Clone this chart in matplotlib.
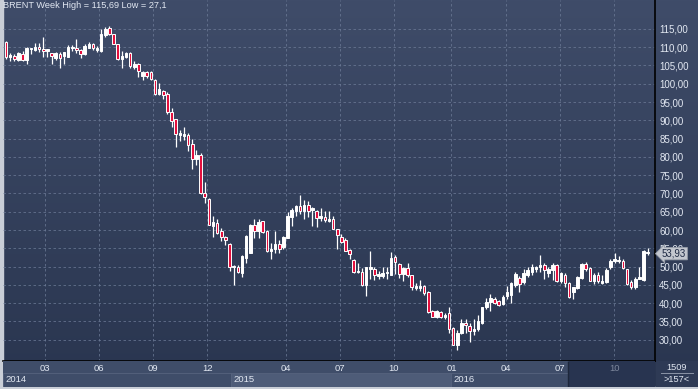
import numpy as np
import matplotlib.pyplot as plt
from matplotlib.patches import Rectangle
from matplotlib.colors import LinearSegmentedColormap

# weekly candles, BRENT, 157 weeks (2014 - Dec 2016)
opens = [111.5, 107.2, 107.5, 106.4, 108.1, 106.6, 109.5, 109.2, 110.1, 109.5,
         109.0, 108.3, 107.0, 108.1, 107.7, 107.3, 109.7, 109.9, 109.2, 108.1,
         109.9, 110.8, 109.3, 109.0, 113.4, 115.2, 113.5, 110.8, 106.8, 107.2,
         108.4, 104.6, 105.3, 102.2, 103.3, 103.1, 101.1, 97.1, 98.0, 97.3,
         92.3, 90.3, 86.1, 85.7, 85.9, 83.4, 79.5, 80.6, 70.1, 68.6,
         61.1, 61.8, 59.7, 58.0, 56.2, 49.8, 49.8, 48.2, 52.4, 53.8,
         61.5, 59.8, 62.4, 59.8, 54.4, 54.9, 56.2, 55.3, 57.8, 63.7,
         65.3, 66.6, 65.3, 66.8, 65.5, 65.3, 63.4, 63.7, 62.6, 62.9,
         60.2, 58.2, 57.3, 54.6, 51.8, 48.4, 48.5, 45.1, 49.3, 49.4,
         47.4, 47.4, 48.2, 47.8, 52.7, 50.7, 48.0, 49.5, 47.6, 44.2,
         44.2, 44.7, 43.1, 37.8, 36.1, 37.6, 36.1, 37.2, 33.2, 28.5,
         31.8, 34.7, 33.8, 32.5, 32.9, 34.7, 38.9, 40.3, 41.2, 40.5,
         39.8, 42.0, 42.3, 45.1, 46.9, 45.8, 47.6, 48.5, 49.3, 49.8,
         50.5, 48.2, 49.1, 50.5, 46.0, 47.8, 45.6, 43.1, 44.2, 46.9,
         50.7, 49.6, 46.0, 47.8, 45.6, 45.8, 49.8, 51.5, 51.5, 51.6,
         49.3, 45.8, 44.5, 46.7, 46.3, 53.6]
highs = [111.7, 108.5, 108.1, 108.6, 108.9, 110.0, 109.7, 111.1, 111.2, 112.8,
         109.4, 108.3, 108.6, 108.6, 108.8, 110.6, 110.6, 112.3, 109.5, 110.8,
         111.5, 111.2, 110.3, 115.0, 115.4, 115.69, 113.5, 111.0, 109.0, 108.8,
         108.6, 106.1, 105.7, 103.5, 103.5, 103.5, 101.3, 100.1, 98.4, 97.7,
         93.4, 90.5, 87.4, 88.1, 86.5, 85.0, 81.9, 81.0, 73.1, 68.8,
         63.9, 62.9, 60.5, 58.4, 56.4, 50.4, 50.4, 53.1, 58.6, 61.7,
         62.9, 62.9, 62.4, 60.0, 56.5, 59.8, 57.3, 58.4, 64.9, 65.9,
         66.9, 69.5, 68.2, 67.9, 66.4, 65.5, 66.0, 65.3, 65.3, 63.9,
         60.4, 58.9, 57.7, 54.9, 52.2, 51.1, 49.5, 50.0, 54.4, 49.8,
         48.9, 50.0, 50.0, 54.0, 53.1, 50.9, 49.8, 51.1, 47.8, 45.6,
         46.4, 44.9, 43.3, 38.1, 38.1, 37.8, 37.4, 38.9, 33.4, 32.7,
         35.6, 35.8, 34.5, 35.6, 36.9, 39.1, 41.3, 42.5, 41.6, 41.0,
         42.2, 44.7, 45.8, 48.5, 47.4, 49.3, 49.8, 50.7, 50.2, 53.1,
         50.9, 50.0, 50.9, 50.7, 48.4, 48.2, 45.8, 44.3, 47.4, 51.1,
         51.3, 49.8, 48.2, 48.5, 47.8, 49.6, 52.2, 53.6, 52.9, 52.2,
         49.4, 46.3, 47.1, 50.0, 54.6, 55.0]
lows = [106.9, 106.3, 106.1, 106.2, 106.2, 105.5, 108.1, 109.0, 108.6, 107.3,
        107.2, 105.5, 106.4, 104.2, 105.3, 107.2, 109.0, 108.3, 107.0, 107.9,
        109.7, 109.3, 108.6, 108.8, 112.9, 113.2, 110.8, 106.4, 104.4, 107.0,
        104.4, 104.1, 101.9, 101.1, 101.7, 101.1, 96.9, 96.9, 95.7, 91.7,
        88.3, 82.6, 84.3, 84.5, 81.7, 76.8, 77.7, 69.9, 67.5, 61.3,
        58.2, 58.9, 56.9, 55.8, 48.7, 45.1, 48.2, 47.3, 51.1, 53.7,
        57.7, 57.7, 59.1, 54.0, 52.2, 53.6, 53.6, 54.9, 57.7, 61.1,
        63.9, 64.4, 62.9, 63.7, 61.1, 60.9, 62.4, 62.2, 62.2, 60.2,
        54.9, 56.4, 54.2, 52.0, 48.2, 48.2, 44.7, 42.0, 46.7, 46.4,
        46.5, 46.9, 46.7, 47.6, 48.0, 46.9, 46.2, 47.1, 43.6, 43.6,
        43.4, 42.2, 37.2, 36.1, 36.0, 36.0, 35.8, 31.9, 28.5, 27.1,
        31.6, 31.9, 29.4, 31.4, 32.5, 34.3, 38.5, 38.0, 39.8, 39.3,
        39.4, 41.2, 40.1, 44.3, 43.2, 45.3, 47.1, 47.8, 48.4, 48.4,
        46.7, 47.1, 46.3, 45.8, 45.4, 44.5, 41.4, 41.1, 43.8, 46.7,
        48.7, 46.0, 45.3, 45.6, 45.3, 45.4, 49.4, 50.9, 50.9, 49.3,
        44.9, 44.0, 43.8, 46.7, 46.2, 53.3]
closes = [107.2, 107.9, 106.8, 108.3, 106.6, 109.7, 109.7, 110.1, 109.4, 108.9,
          109.4, 107.5, 108.3, 107.0, 108.8, 110.1, 110.1, 109.2, 108.1, 110.3,
          110.8, 109.7, 109.9, 113.7, 115.0, 113.5, 111.0, 106.8, 107.5, 108.4,
          104.8, 105.5, 103.5, 103.3, 102.1, 101.3, 97.1, 98.6, 96.8, 92.2,
          89.9, 86.3, 86.6, 86.3, 83.2, 79.5, 80.4, 70.1, 69.0, 61.5,
          62.2, 59.3, 58.0, 57.3, 49.8, 50.1, 48.4, 52.9, 58.4, 61.5,
          59.8, 62.2, 59.5, 54.4, 54.9, 56.2, 54.9, 58.2, 63.9, 65.5,
          66.6, 65.3, 66.8, 65.3, 65.9, 63.3, 63.9, 62.8, 63.0, 60.4,
          58.6, 56.7, 54.4, 53.5, 48.4, 48.9, 44.9, 49.8, 49.8, 47.8,
          48.0, 48.2, 48.5, 52.4, 51.3, 48.0, 49.5, 47.6, 44.3, 44.7,
          44.7, 42.9, 37.6, 36.3, 37.8, 36.1, 36.9, 33.0, 28.7, 31.9,
          34.7, 34.0, 32.3, 32.9, 35.2, 38.9, 40.3, 41.4, 40.1, 39.6,
          41.8, 43.1, 45.4, 48.0, 45.3, 48.2, 49.1, 49.8, 50.0, 50.5,
          49.1, 49.3, 50.5, 46.0, 48.2, 45.6, 41.8, 44.3, 47.1, 50.7,
          49.4, 46.2, 47.8, 46.0, 46.2, 49.1, 51.6, 52.0, 51.8, 49.6,
          45.2, 44.3, 46.7, 47.1, 54.4, 53.93]

month_labels = ['03', '06', '09', '12', '04', '07', '10', '01', '04', '07', '10']
month_pos = [9.4, 22.5, 35.4, 48.6, 67.6, 80.7, 93.7, 107.6, 120.7, 133.8, 146.9]
years = ['2014', '2015', '2016']
year_start = [-0.7, 54.3, 107.5]
price_ticks = np.arange(30, 116, 5)

W, H = 698, 389
bg_top, bg_bot = '#3f4c69', '#29354f'
txt = '#e2e8f2'
red = '#e3103e'
font = 'Liberation Sans'

fig = plt.figure(figsize=(W / 100, H / 100), dpi=100)
fig.patch.set_facecolor('#c9ced7')

# gradient background
bg = fig.add_axes([0, 0, 1, 1])
bg.set_axis_off()
grad = np.linspace(1, 0, 256).reshape(-1, 1)
cmap = LinearSegmentedColormap.from_list('bg', [bg_bot, bg_top])
bg.imshow(grad, aspect='auto', cmap=cmap, extent=[0, 1, 0, 1])
bg.set_xlim(0, 1)
bg.set_ylim(0, 1)
# light frame left / bottom
bg.add_patch(Rectangle((0, 0), 3 / W, 1, color='#c9ced7'))
bg.add_patch(Rectangle((0, 0), 1, 2 / H, color='#c9ced7'))

# main price axes
ax = fig.add_axes([3 / W, 28 / H, 652 / W, 361 / H])
ax.set_facecolor('none')
idx = np.arange(len(opens))
o = np.array(opens); c = np.array(closes)
hi = np.array(highs); lo = np.array(lows)
up = c >= o
ax.vlines(idx, lo, hi, color='white', lw=0.9, zorder=3)
body_h = np.maximum(np.abs(c - o), 0.15)
ax.bar(idx, body_h, bottom=np.minimum(o, c), width=0.62,
       color=np.where(up, 'white', red), edgecolor='white', linewidth=0.7, zorder=4)

ax.set_xlim(-0.72, 156.75)
ax.set_ylim(24.2, 122.9)
ax.set_yticks(price_ticks)
ax.set_yticklabels(['%d,00' % v for v in price_ticks], fontsize=7, color=txt, family=font)
ax.yaxis.tick_right()
ax.tick_params(axis='y', length=0, pad=3)
ax.set_xticks(month_pos)
ax.tick_params(axis='x', length=0, labelbottom=False)
ax.grid(True, color='#6d7b97', linestyle=(0, (3, 3)), linewidth=0.6, alpha=0.85)
ax.set_axisbelow(True)
for s in ['top', 'left']:
    ax.spines[s].set_visible(False)
ax.spines['right'].set_color('black')
ax.spines['bottom'].set_color('black')
ax.spines['right'].set_linewidth(1.2)
ax.spines['bottom'].set_linewidth(1.2)

ax.text(0.0, 0.996, 'BRENT Week High = 115,69 Low = 27,1', transform=ax.transAxes,
        ha='left', va='top', fontsize=6.6, color=txt, family=font)

# last price tag (drawn over the 55,00 label like the original)
last = closes[-1]
ax.annotate('53,93', xy=(1.0, last), xycoords=('axes fraction', 'data'),
            xytext=(5, -1), textcoords='offset points', ha='left', va='center',
            fontsize=7, color='#1f2a44', family=font, annotation_clip=False, zorder=10,
            bbox=dict(boxstyle='larrow,pad=0.12', fc='#c3c7cf', ec='#9aa0ab', lw=0.6))

# time axis panel
tx = fig.add_axes([3 / W, 2 / H, 652 / W, 26 / H], sharex=ax)
tx.set_ylim(0, 1)
tx.set_axis_off()
tx.add_patch(Rectangle((-1, 0), 200, 1, color='#3f4d69', zorder=0))
year_end = year_start[1:] + [136.0]
for k, (y0, y1) in enumerate(zip(year_start, year_end)):
    tx.add_patch(Rectangle((y0, 0), y1 - y0, 0.54, fc='#4e5c78' if k == 1 else '#3f4d69',
                           ec='#56637e', lw=0.6, zorder=1))
    tx.text(y0 + 0.6, 0.27, years[k], ha='left', va='center', fontsize=6.8,
            color=txt, family=font, zorder=3)
tx.add_patch(Rectangle((136.0, 0), 30, 1, color='#283450', zorder=2))
tx.vlines(135.8, 0, 1, color='#1d273b', lw=1.0, zorder=2)
for p, lab in zip(month_pos, month_labels):
    tx.text(p, 0.73, lab, ha='center', va='center', fontsize=6.8,
            color='#7d879c' if p > 136 else txt, family=font, zorder=3)

# bottom right box
br = fig.add_axes([656 / W, 2 / H, 42 / W, 26 / H])
br.set_axis_off()
br.set_xlim(0, 1)
br.set_ylim(0, 1)
br.add_patch(Rectangle((0, 0), 1, 1, color='#2e3a55'))
br.text(0.5, 0.76, '1509', ha='center', va='center', fontsize=6.6, color=txt, family=font)
br.plot([0.12, 0.88], [0.52, 0.52], color='#8a93a6', lw=0.7)
br.text(0.5, 0.27, '>157<', ha='center', va='center', fontsize=6.6, color=txt, family=font)

fig.savefig('out.png', dpi=100)
